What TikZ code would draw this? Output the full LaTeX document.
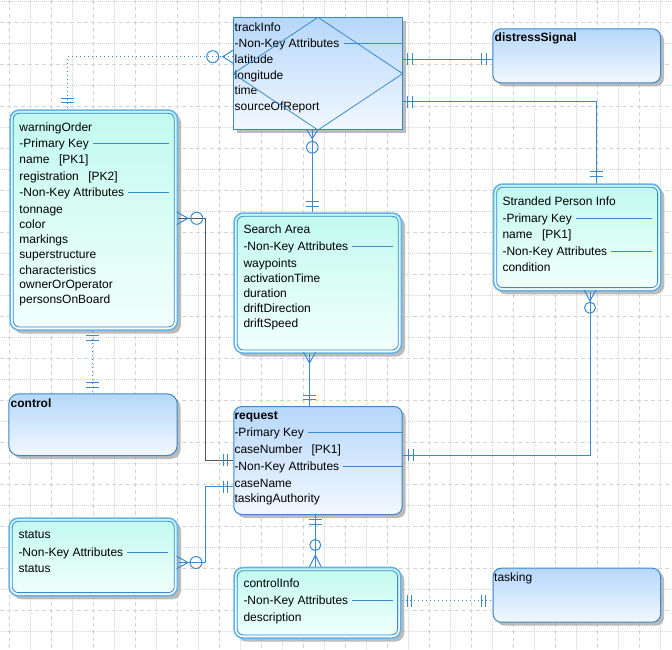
\documentclass[tikz,border=0pt]{standalone}
\usepackage{fontspec}
\setmainfont{Liberation Sans}
\usetikzlibrary{calc,shadows}
\definecolor{conn}{HTML}{3A8AD2}
\definecolor{bluetop}{HTML}{B6D7FA}
\definecolor{bluebot}{HTML}{F2F8FF}
\definecolor{cyantop}{HTML}{C2FAEE}
\definecolor{cyanbot}{HTML}{F2FFFC}
\definecolor{outerb}{HTML}{68B2EA}
\definecolor{innerb}{HTML}{3C88CC}
\definecolor{gridc}{HTML}{D4D4D4}
\definecolor{darkconn}{HTML}{505860}
\newcommand\sepline[2]{%
  \coordinate (tmpsep) at ([yshift=3.8pt]#1.base east);
  \draw[sepl] ([xshift=4pt]tmpsep) -- (tmpsep -| #2);}
\tikzset{
  ent/.style={rectangle, anchor=north west, inner sep=0pt, draw=innerb, line width=1pt,
    drop shadow={shadow xshift=3.5pt, shadow yshift=-3.5pt, fill=black!40, opacity=0.65}},
  blueent/.style={ent, top color=bluetop, bottom color=bluebot, rounded corners=8pt},
  sqent/.style={ent, top color=bluetop, bottom color=bluebot},
  cyanent/.style={ent, top color=cyantop, bottom color=cyanbot, rounded corners=9pt, draw=outerb, line width=1.6pt},
  innerline/.style={draw=innerb, line width=0.8pt, rounded corners=6pt},
  attr/.style={anchor=base west, inner sep=0pt, font=\fontsize{12}{14}\selectfont},
  ttl/.style={attr, font=\fontsize{12}{14}\selectfont\bfseries},
  sepl/.style={draw=conn, line width=0.9pt},
  conn/.style={draw=conn, line width=1pt},
  grayconn/.style={draw=darkconn, line width=0.9pt},
  dotconn/.style={draw=conn, line width=1pt, dash pattern=on 1.5pt off 2.5pt},
  griddash/.style={draw=gridc, line width=0.8pt, dash pattern=on 4pt off 3pt},
  griddot/.style={draw=gridc, line width=0.8pt, dash pattern=on 1pt off 1pt},
  vbar/.pic={\draw[conn] (0,-6) -- (0,6);},
  hbar/.pic={\draw[conn] (-6.5,0) -- (6.5,0);},
}
\begin{document}
\begin{tikzpicture}[x=1pt,y=-1pt]
\useasboundingbox[fill=white] (0,0) rectangle (672,649);
% grid
\foreach \gx in {9,51,...,671} \draw[griddash] (\gx,0) -- (\gx,649);
\foreach \gx in {30,72,...,671} \draw[griddot] (\gx,0) -- (\gx,649);
\foreach \gy in {22,64,...,648} \draw[griddash] (0,\gy) -- (672,\gy);
\foreach \gy in {1,43,...,648} \draw[griddot] (0,\gy) -- (672,\gy);

% entities
\node[sqent, minimum width=168.4pt, minimum height=111.7pt] (track) at (233.3,17.3) {};
\node[blueent, minimum width=167.7pt, minimum height=54pt] (dist) at (492.3,28.3) {};
\node[cyanent, minimum width=167.4pt, minimum height=220pt] (wo) at (9.3,109.3) {};
\node[cyanent, minimum width=167.4pt, minimum height=140pt] (sa) at (233.3,212.3) {};
\node[cyanent, minimum width=167.3pt, minimum height=106.7pt] (sp) at (492.7,183.3) {};
\node[blueent, minimum width=168.4pt, minimum height=61.7pt, rounded corners=10pt] (ctrl) at (8.3,393.3) {};
\node[blueent, minimum width=168.4pt, minimum height=108pt] (req) at (233.3,406) {};
\node[cyanent, minimum width=168.4pt, minimum height=77.7pt] (st) at (8.3,517.3) {};
\node[cyanent, minimum width=166.7pt, minimum height=70.6pt] (ci) at (233.3,566.7) {};
\node[blueent, minimum width=167.3pt, minimum height=54pt] (task) at (492.7,567.7) {};

% inner borders
\foreach \e in {wo,sa,sp,st,ci}
  \draw[innerline] ([shift={(4pt,-4pt)}]\e.north west) rectangle ([shift={(-4pt,4pt)}]\e.south east);

% separator end points
\coordinate (woR) at ([xshift=-9pt]wo.east);
\coordinate (saR) at ([xshift=-9pt]sa.east);
\coordinate (spR) at ([xshift=-9.3pt]sp.east);
\coordinate (stR) at ([xshift=-10pt]st.east);
\coordinate (ciR) at ([xshift=-8.3pt]ci.east);

% trackInfo
\node[attr] (t0) at (234.5,31) {trackInfo};
\node[attr] (t1) at (234.5,47) {-Non-Key Attributes};
\node[attr] (t2) at (234.5,63.5) {latitude};
\node[attr] (t3) at (234.5,79) {longitude};
\node[attr] (t4) at (234.5,94.5) {time};
\node[attr] (t5) at (234.5,110) {sourceOfReport};
\sepline{t1}{track.east}
\draw[conn, line width=0.8pt] (track.north) -- (track.east) -- (track.south) -- (track.west) -- cycle;

% distressSignal
\node[ttl] (d0) at (494.5,41.6) {distressSignal};

% warningOrder
\node[attr] (w0) at (19.3,131) {warningOrder};
\node[attr] (w1) at (19.3,147.6) {-Primary Key};
\node[attr] (w2) at (19.3,163.6) {name\hspace{9.5pt}[PK1]};
\node[attr] (w3) at (19.3,180.3) {registration\hspace{9.5pt}[PK2]};
\node[attr] (w4) at (19.3,196) {-Non-Key Attributes};
\node[attr] (w5) at (19.3,213.3) {tonnage};
\node[attr] (w6) at (19.3,228.3) {color};
\node[attr] (w7) at (19.3,243.3) {markings};
\node[attr] (w8) at (19.3,258.6) {superstructure};
\node[attr] (w9) at (19.3,274.3) {characteristics};
\node[attr] (w10) at (19.3,288.6) {ownerOrOperator};
\node[attr] (w11) at (19.3,303.6) {personsOnBoard};
\sepline{w1}{woR}
\sepline{w4}{woR}

% Search Area
\node[attr] (s0) at (243.3,233.3) {Search Area};
\node[attr] (s1) at (243.3,250) {-Non-Key Attributes};
\node[attr] (s2) at (243.3,267) {waypoints};
\node[attr] (s3) at (243.3,282) {activationTime};
\node[attr] (s4) at (243.3,297) {duration};
\node[attr] (s5) at (243.3,312) {driftDirection};
\node[attr] (s6) at (243.3,327.3) {driftSpeed};
\sepline{s1}{saR}

% Stranded Person Info
\node[attr] (p0) at (502.3,205) {Stranded Person Info};
\node[attr] (p1) at (502.3,222) {-Primary Key};
\node[attr] (p2) at (502.3,238.3) {name\hspace{9.5pt}[PK1]};
\node[attr] (p3) at (502.3,255) {-Non-Key Attributes};
\node[attr] (p4) at (502.3,271.3) {condition};
\sepline{p1}{spR}
\sepline{p3}{spR}

% control
\node[ttl] (c0) at (10.5,407) {control};

% request
\node[ttl] (r0) at (234.3,419.3) {request};
\node[attr] (r1) at (234.3,436.6) {-Primary Key};
\node[attr] (r2) at (234.3,453.3) {caseNumber\hspace{9pt}[PK1]};
\node[attr] (r3) at (234.3,470.3) {-Non-Key Attributes};
\node[attr] (r4) at (234.3,487) {caseName};
\node[attr] (r5) at (234.3,502) {taskingAuthority};
\sepline{r1}{req.east}
\sepline{r3}{req.east}

% status
\node[attr] (u0) at (18.3,538.6) {status};
\node[attr] (u1) at (18.3,556) {-Non-Key Attributes};
\node[attr] (u2) at (18.3,572.6) {status};
\sepline{u1}{stR}

% controlInfo
\node[attr] (i0) at (243.3,587.6) {controlInfo};
\node[attr] (i1) at (243.3,604.6) {-Non-Key Attributes};
\node[attr] (i2) at (243.3,621.6) {description};
\sepline{i1}{ciR}

% tasking
\node[attr] (k0) at (494,581) {tasking};

% ---------------- connectors ----------------
% trackInfo -- distressSignal
\draw[conn] (track.east |- 0,59) -- (dist.west |- 0,59);
\pic at (407.3,59) {vbar}; \pic at (412.3,59) {vbar};
\pic at (481.7,59) {vbar}; \pic at (486.7,59) {vbar};

% trackInfo -- Stranded Person Info
\draw[conn] (track.east |- 0,101.7) -| (596.7,0 |- sp.north);
\pic at (407.3,101.7) {vbar}; \pic at (412.3,101.7) {vbar};
\pic at (596.7,171.7) {hbar}; \pic at (596.7,176.3) {hbar};

% trackInfo -- Search Area
\draw[conn] (312.3,0 |- track.south) -- (312.3,0 |- sa.north);
\draw[conn] (306.3,129) -- (312.3,138.5) -- (318.3,129);
\draw[conn] (312.3,147.3) circle[radius=5.8pt];
\pic at (312.3,201.7) {hbar}; \pic at (312.3,206) {hbar};

% Search Area -- request
\draw[conn] (309.5,0 |- sa.south) -- (309.5,0 |- req.north);
\draw[conn] (303.5,352.3) -- (309.5,363) -- (315.5,352.3);
\pic at (309.5,395) {hbar}; \pic at (309.5,399.3) {hbar};

% Stranded Person Info -- request
\draw[conn] (590,0 |- sp.south) |- (req.east |- 0,455);
\draw[conn] (584,290) -- (590,300.7) -- (596,290);
\draw[conn] (590,307.7) circle[radius=5.5pt];
\pic at (408,455) {vbar}; \pic at (413,455) {vbar};

% warningOrder -- request
\draw[grayconn] (wo.east |- 0,218.3) -| (205,460) -- (req.west |- 0,460);
\draw[conn] (176.7,212) -- (188,218.3) -- (176.7,224.6);
\draw[conn] (196.7,218.3) circle[radius=6pt];
\pic at (223.3,460) {vbar}; \pic at (227.3,460) {vbar};

% request -- status
\draw[conn] (req.west |- 0,486.7) -| (205,562.5) -- (st.east |- 0,562.5);
\draw[conn] (176.7,556.3) -- (188,562.5) -- (176.7,568.7);
\draw[conn] (196,562.5) circle[radius=6pt];
\pic at (223.3,486.7) {vbar}; \pic at (227.3,486.7) {vbar};

% warningOrder -- trackInfo (dotted)
\draw[dotconn] (track.west |- 0,56.7) -| (67.3,0 |- wo.north);
\draw[conn] (233.3,50) -- (222.7,56.7) -- (233.3,63.4);
\draw[conn] (212.7,56.7) circle[radius=6pt];
\pic at (67.3,98.3) {hbar}; \pic at (67.3,102.7) {hbar};

% warningOrder -- control (dotted)
\draw[dotconn] (92.7,0 |- wo.south) -- (92.7,0 |- ctrl.north);
\pic at (92.7,335) {hbar}; \pic at (92.7,340.5) {hbar};
\pic at (92.7,382) {hbar}; \pic at (92.7,387.5) {hbar};

% request -- controlInfo
\draw[conn] (315.3,0 |- req.south) -- (315.3,0 |- ci.north);
\draw[conn] (309.5,566.7) -- (315.3,555) -- (321.1,566.7);
\draw[conn] (315.3,545) circle[radius=5.5pt];
\pic at (315.3,519.5) {hbar}; \pic at (315.3,524) {hbar};

% controlInfo -- tasking (dotted)
\draw[dotconn] (ci.east |- 0,600.5) -- (task.west |- 0,600.5);
\pic at (407.3,600.5) {vbar}; \pic at (411.7,600.5) {vbar};
\pic at (481.7,600.5) {vbar}; \pic at (485.7,600.5) {vbar};
\end{tikzpicture}
\end{document}
